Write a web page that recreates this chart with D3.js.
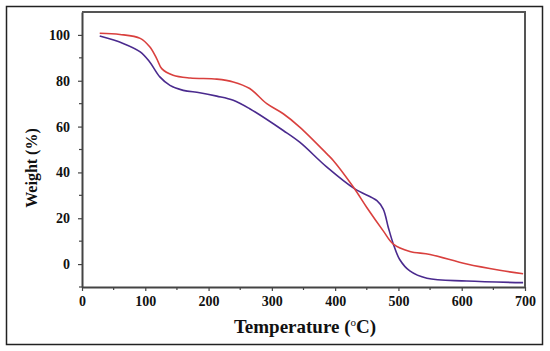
<!DOCTYPE html>
<html>
<head>
<meta charset="utf-8">
<script src="https://cdn.jsdelivr.net/npm/d3@7"></script>
<style>
  body { margin: 0; background: #fff; }
  text { font-family: "Liberation Serif", "Times New Roman", serif; font-weight: bold; }
</style>
</head>
<body>
<div id="chart"></div>
<script>
// red curve
var redTemp   = [28, 60, 92, 107, 118, 126, 144, 171, 213, 239, 265, 292, 318, 344, 387, 397, 429, 450, 476, 492, 518, 550, 608, 660, 697];
var redWeight = [100.7, 100.2, 98.5, 94.8, 89.7, 85.3, 82.4, 81.2, 80.7, 79.5, 76.6, 70, 65.6, 59.8, 48.1, 45.2, 33.5, 24.7, 14.5, 8.7, 5.5, 4.2, 0, -2.7, -4.2];
// purple curve
var purpleTemp   = [28, 65, 92, 107, 123, 139, 160, 186, 213, 239, 265, 318, 344, 387, 431, 466, 476, 484, 492, 502, 518, 545, 608, 697];
var purpleWeight = [99.5, 96.3, 92.6, 88.2, 81.7, 78, 75.8, 74.8, 73.3, 71.5, 67.8, 58.3, 53.2, 42.3, 32.8, 27.7, 24, 16, 8.7, 2, -3, -6.2, -7.4, -8.1];

var xTicks = [0, 100, 200, 300, 400, 500, 600, 700];
var yTicks = [0, 20, 40, 60, 80, 100];

var width = 550, height = 351;
var margin = {top: 12, right: 25, bottom: 64, left: 82};
var serif = "'Liberation Serif', 'Times New Roman', serif";

var svg = d3.select("#chart").append("svg")
    .attr("width", width)
    .attr("height", height);

// outer frame
svg.append("rect")
    .attr("x", 6.5).attr("y", 6.5)
    .attr("width", 536).attr("height", 338)
    .attr("fill", "none")
    .attr("stroke", "#222")
    .attr("stroke-width", 1.5);

var x = d3.scaleLinear().domain([0, 700]).range([margin.left, width - margin.right]);
var y = d3.scaleLinear().domain([-10, 110]).range([height - margin.bottom, margin.top]);

// minor ticks
var xMinor = d3.range(50, 700, 100);
var yMinor = d3.range(-10, 110, 20);

var g = svg.append("g");

g.selectAll(".xminor").data(xMinor).enter().append("line")
    .attr("x1", function(d){ return x(d); }).attr("x2", function(d){ return x(d); })
    .attr("y1", y(-10)).attr("y2", y(-10) + 3)
    .attr("stroke", "#444").attr("stroke-width", 1.2);
g.selectAll(".yminor").data(yMinor).enter().append("line")
    .attr("y1", function(d){ return y(d); }).attr("y2", function(d){ return y(d); })
    .attr("x1", x(0)).attr("x2", x(0) - 3)
    .attr("stroke", "#444").attr("stroke-width", 1.2);

var xAxis = d3.axisBottom(x).tickValues(xTicks).tickSize(4).tickPadding(5).tickSizeOuter(0);
var yAxis = d3.axisLeft(y).tickValues(yTicks).tickSize(4).tickPadding(8).tickSizeOuter(0);

var gx = svg.append("g").attr("transform", "translate(0," + y(-10) + ")").call(xAxis);
var gy = svg.append("g").attr("transform", "translate(" + x(0) + ",0)").call(yAxis);

[gx, gy].forEach(function(a){
    a.attr("font-family", serif).attr("font-size", 14).attr("font-weight", "bold");
    a.select(".domain").attr("stroke", "#444").attr("stroke-width", 2);
    a.selectAll(".tick line").attr("stroke", "#444").attr("stroke-width", 1.2);
    a.selectAll(".tick text").attr("fill", "#111");
});

// top and right frame of plot
svg.append("path")
    .attr("d", "M" + x(0) + "," + y(110) + "H" + x(700) + "V" + y(-10))
    .attr("fill", "none")
    .attr("stroke", "#555")
    .attr("stroke-width", 2);

var line = d3.line()
    .x(function(d){ return x(d[0]); })
    .y(function(d){ return y(d[1]); })
    .curve(d3.curveCatmullRom.alpha(0.5));

var redData = redTemp.map(function(t, i){ return [t, redWeight[i]]; });
var purpleData = purpleTemp.map(function(t, i){ return [t, purpleWeight[i]]; });

svg.append("path").datum(purpleData)
    .attr("d", line)
    .attr("fill", "none")
    .attr("stroke", "#4a2a8e")
    .attr("stroke-width", 1.6);

svg.append("path").datum(redData)
    .attr("d", line)
    .attr("fill", "none")
    .attr("stroke", "#d9403e")
    .attr("stroke-width", 1.6);

// axis titles
var xt = svg.append("text")
    .attr("x", 305).attr("y", 333)
    .attr("text-anchor", "middle")
    .style("font-size", "19px")
    .attr("fill", "#111");
xt.append("tspan").text("Temperature (");
xt.append("tspan").attr("dy", -7).style("font-size", "11px").style("font-weight", "normal").text("o");
xt.append("tspan").attr("dy", 7).text("C)");

svg.append("text")
    .attr("transform", "translate(37,168) rotate(-90)")
    .attr("text-anchor", "middle")
    .style("font-size", "16px")
    .attr("fill", "#111")
    .text("Weight (%)");
</script>
</body>
</html>
